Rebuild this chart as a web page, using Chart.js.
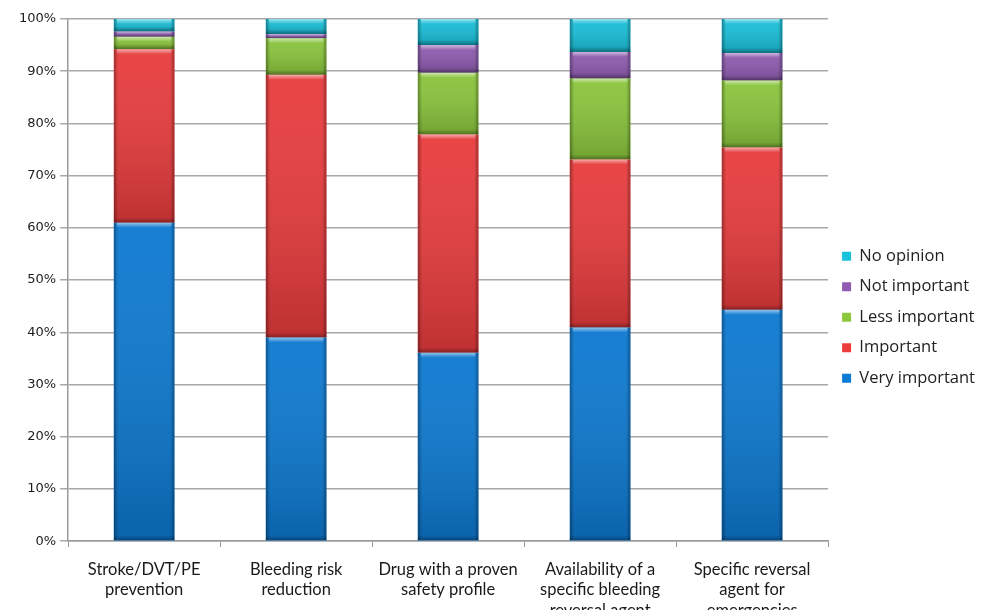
<!DOCTYPE html>
<html>
<head>
<meta charset="utf-8">
<script src="https://cdn.jsdelivr.net/npm/chart.js@4/dist/chart.umd.min.js"></script>
<style>
  html, body { margin: 0; padding: 0; background: #ffffff; overflow: hidden; }
  #wrap { position: relative; width: 985px; height: 633px; }
</style>
</head>
<body>
<div id="wrap"><canvas id="chart"></canvas></div>
<script>
// Survey answers per criterion (% of respondents)
const categories = [
  ['Stroke/DVT/PE', 'prevention'],
  ['Bleeding risk', 'reduction'],
  ['Drug with a proven', 'safety profile'],
  ['Availability of a', 'specific bleeding', 'reversal agent'],
  ['Specific reversal', 'agent for', 'emergencies']
];
const veryImportant = [61.0, 39.0, 36.1, 40.9, 44.3];
const important     = [33.2, 50.3, 41.8, 32.2, 31.1];
const lessImportant = [2.4, 7.0, 11.8, 15.5, 12.8];
const notImportant  = [1.0, 0.8, 5.3, 5.1, 5.3];
const noOpinion     = [2.4, 2.9, 5.0, 6.3, 6.5];
const seriesNames = ['Very important', 'Important', 'Less important', 'Not important', 'No opinion'];
const seriesColors = ['#0c7bd4', '#ec3c3d', '#8cc83c', '#8f5cb2', '#18c2dc'];
const seriesValues = [veryImportant, important, lessImportant, notImportant, noOpinion];

// Bevel shading drawn over every bar segment
const bevelPlugin = {
  id: 'bevel',
  afterDatasetsDraw(chart) {
    const ctx = chart.ctx;
    chart.data.datasets.forEach((ds, di) => {
      const meta = chart.getDatasetMeta(di);
      if (meta.hidden) return;
      meta.data.forEach(bar => {
        const left = bar.x - bar.width / 2;
        const top = Math.min(bar.y, bar.base);
        const h = Math.abs(bar.base - bar.y);
        const w = bar.width;
        if (h < 0.5) return;
        ctx.save();
        ctx.beginPath();
        ctx.rect(left, top, w, h);
        ctx.clip();
        // overall vertical tone
        let g = ctx.createLinearGradient(0, top, 0, top + h);
        g.addColorStop(0, 'rgba(255,255,255,0.05)');
        g.addColorStop(1, 'rgba(0,0,0,0.18)');
        ctx.fillStyle = g;
        ctx.fillRect(left, top, w, h);
        // darker side edges
        g = ctx.createLinearGradient(left, 0, left + w, 0);
        g.addColorStop(0, 'rgba(0,0,0,0.35)');
        g.addColorStop(0.07, 'rgba(0,0,0,0.02)');
        g.addColorStop(0.93, 'rgba(0,0,0,0.02)');
        g.addColorStop(1, 'rgba(0,0,0,0.35)');
        ctx.fillStyle = g;
        ctx.fillRect(left, top, w, h);
        // top highlight band
        const band = Math.min(5, h / 2);
        g = ctx.createLinearGradient(0, top, 0, top + band);
        g.addColorStop(0, 'rgba(255,255,255,0.55)');
        g.addColorStop(1, 'rgba(255,255,255,0)');
        ctx.fillStyle = g;
        ctx.fillRect(left + 3, top, w - 6, band);
        // bottom shadow band
        g = ctx.createLinearGradient(0, top + h - band, 0, top + h);
        g.addColorStop(0, 'rgba(0,0,0,0)');
        g.addColorStop(1, 'rgba(0,0,0,0.3)');
        ctx.fillStyle = g;
        ctx.fillRect(left, top + h - band, w, band);
        ctx.restore();
      });
    });
  }
};

const datasets = seriesNames.map((name, i) => ({
  label: name,
  data: seriesValues[i],
  backgroundColor: seriesColors[i],
  borderWidth: 0,
  barPercentage: 0.4,
  categoryPercentage: 1.0
}));

new Chart(document.getElementById('chart'), {
  type: 'bar',
  data: { labels: categories, datasets: datasets },
  plugins: [bevelPlugin],
  options: {
    responsive: true,
    maintainAspectRatio: false,
    animation: false,
    layout: { padding: { top: 19, left: 15, right: 0, bottom: 0 } },
    plugins: {
      tooltip: { enabled: false },
      legend: {
        position: 'right',
        fullSize: false,
        reverse: true,
        title: { display: true, text: '', padding: { top: 0, bottom: 60 } },
        labels: {
          boxWidth: 9,
          boxHeight: 9,
          padding: 14,
          color: '#222',
          font: { family: 'Open Sans', size: 16.5 }
        }
      }
    },
    scales: {
      x: {
        stacked: true,
        grid: { display: true, drawOnChartArea: false, offset: true, tickLength: 6, color: '#9a9a9a', lineWidth: 1 },
        border: { color: '#9a9a9a', width: 1.5 },
        ticks: {
          color: '#1a1a1a',
          padding: 12,
          maxRotation: 0,
          autoSkip: false,
          font: { family: 'Lato', size: 16.5, lineHeight: 1.25 }
        }
      },
      y: {
        stacked: true,
        min: 0,
        max: 100,
        grid: { color: '#a8a8a8', lineWidth: 1.5, tickLength: 8 },
        border: { color: '#9a9a9a', width: 1.5 },
        ticks: {
          stepSize: 10,
          padding: 4,
          color: '#1c1c1c',
          callback: v => v + '%',
          font: { family: 'DejaVu Sans', size: 13 }
        }
      }
    }
  }
});
</script>
</body>
</html>
